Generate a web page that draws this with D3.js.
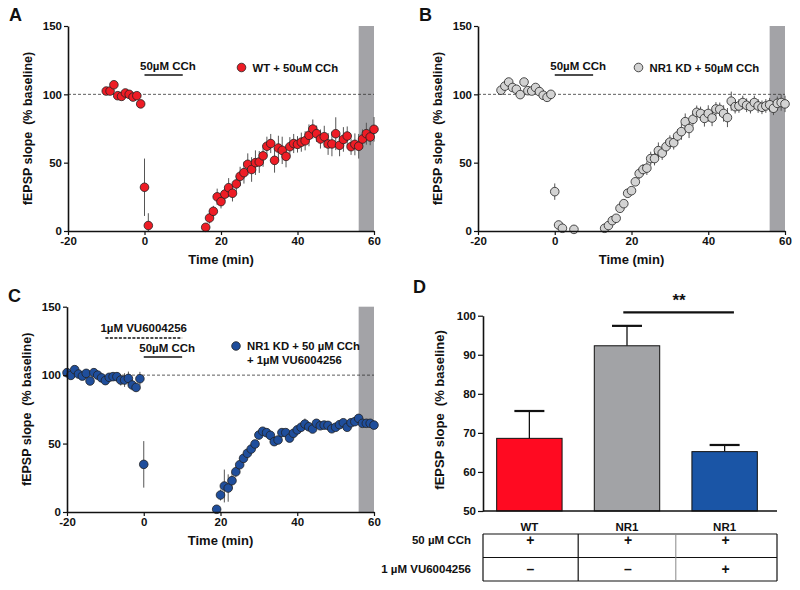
<!DOCTYPE html>
<html><head><meta charset="utf-8">
<script src="https://cdn.jsdelivr.net/npm/d3@7"></script>
<style>
body{margin:0;background:#fff}
svg text{font-family:"Liberation Sans",Arial,sans-serif;font-weight:bold;fill:#111}
</style></head>
<body><svg id="c" width="800" height="590"></svg>
<script>
// ---- Panel A: WT + 50uM CCh ----
const aTime = [-10,-9,-8,-7,-6,-5,-4,-3,-2,-1,0,1,
  16,17,18,19,20,21,22,23,24,25,26,27,28,29,30,31,32,33,34,35,36,37,38,39,40,41,42,43,44,45,46,47,48,49,50,51,52,53,54,55,56,57,58,59,60];
const aValue = [102.4,102.4,107,99,98.5,101,100,98,99,93,32,4,
  2.7,9.5,14.4,25,21.5,27,31.7,27.6,34.4,40,42.7,48.8,45,50,50.5,55,62,64,51.7,60.7,59,54.6,61.7,64,63.4,65,66,70,74.6,71.2,67.3,69,63.7,63.7,71.2,62.7,67,69.5,61.7,63.4,62,67.3,71.2,68.8,74.4];
const aErr = [1.5,2,2.5,3,2,2,1.5,2,2,2.5,21,9,
  3,4,4,6,5,5,7,6,6,7,8,8,9,9,8,8,7,7,9,9,10,8,7,7,6,7,7,8,7,6,7,8,8,9,12,8,9,7,6,8,9,7,8,6,9];

// ---- Panel B: NR1 KD + 50uM CCh ----
const bTime = [-14,-13,-12,-11,-10,-9,-8,-7,-6,-5,-4,-3,-2,-1,0,1,2,5,
  13,14,15,16,17,18,19,20,21,22,23,24,25,26,27,28,29,30,31,32,33,34,35,36,37,38,39,40,41,42,43,44,45,46,47,48,49,50,51,52,53,54,55,56,57,58,59,60];
const bValue = [103,106,109,105,103.7,99.8,109,102.7,102.4,105,102,99.3,97.8,100,28.8,4.4,2,1.2,
  2,4,7.6,9.3,16.6,20,27.6,29.5,36,42,45,46,53,53,58.8,57,61.7,65,64.6,69.5,72.7,80,75,81.7,86.8,86,82.4,86,82.7,89.3,89,86,83,95,91,91.5,94,92,91,94,91.5,90.5,91.5,92.4,89.8,93.4,94,93];
const bErr = [2,2,2,2,2,2,2,2,2,2,2,2,2,2,6,3,1,3,
  1,1,1,1.5,2,2,3,3,3,4,4,5,5,5,6,5,5,5,5,5,6,6,7,5,5,5,6,6,6,5,5,6,7,7,5,5,5,5,5,5,5,5,5,5,5,5,6,6];

// ---- Panel C: NR1 KD + 50uM CCh + 1uM VU6004256 ----
const cTime = [-20,-19,-18,-17,-16,-15,-14,-13,-12,-11,-10,-9,-8,-7,-6,-5,-4,-3,-2,-1,0,
  19,20,21,22,23,24,25,26,27,28,29,30,31,32,33,34,35,36,37,38,39,40,41,42,43,44,45,46,47,48,49,50,51,52,53,54,55,56,57,58,59,60];
const cValue = [101.8,99.8,104,100.8,99.3,101.3,95.7,101.8,100,98,96,98.4,98.9,98.9,96.4,96.4,97.6,92.8,91,97.4,34.8,
  2,12.4,19,17.5,22.9,29.4,34.5,39.2,42.9,46,49.7,56.2,59,58,56,51.4,52.6,58,58,54,57.5,60,61.9,64.3,62.3,60.6,64.8,63,63.5,63.3,60.8,61.9,63.8,65.2,61.9,65.2,66,68.4,64.8,64.8,64.8,63.5];
const cErr = [1.5,1.5,2,1.5,1.5,1.5,2,1.5,1.5,2,2,2,2,3,4,5,5,4,3,5,17,
  1,4,12,10,6,4,3,3,2,2,2,2,2,2,2,2,2,2,2,2,2,2,2,4,2,2,2,2,2,2,2,2,2,2,2,2,2,2,2,2,2,2];

const timeTicks = [-20,0,20,40,60];
const slopeTicks = [0,50,100,150];

// ---- Panel D: bar summary ----
const dGroups = ["WT","NR1","NR1"];
const dValue = [68.6,92.3,65.2];
const dErr = [7.0,5.1,1.7];
const dTicks = [50,60,70,80,90,100];
const rowLabels = ["50 \u00b5M CCh","1 \u00b5M VU6004256"];
const rowCCh = ["+","+","+"];
const rowVU = ["\u2013","\u2013","+"];

const svg = d3.select("#c");
const fmt = d => String(d);

function timePanel(o){
  const g = svg.append("g");
  const x = d3.scaleLinear().domain([-20,60]).range([o.left,o.right]);
  const y = d3.scaleLinear().domain([0,150]).range([o.bottom,o.top]);
  g.append("rect").attr("x",x(56)).attr("y",y(150)).attr("width",x(60)-x(56)).attr("height",y(0)-y(150)).attr("fill","#a3a3a7");
  g.append("line").attr("x1",x(-20)).attr("x2",x(60)).attr("y1",y(100)).attr("y2",y(100))
    .attr("stroke","#333").attr("stroke-width",0.8).attr("stroke-dasharray","3,2");
  const pts = o.t.map((t,i)=>({t,v:o.v[i],e:o.e[i]}));
  g.selectAll("line.err").data(pts).join("line").attr("class","err")
    .attr("x1",d=>x(d.t)).attr("x2",d=>x(d.t))
    .attr("y1",d=>y(Math.max(0,d.v-d.e))).attr("y2",d=>y(d.v+d.e))
    .attr("stroke","#555").attr("stroke-width",1);
  g.selectAll("circle.pt").data(pts).join("circle").attr("class","pt")
    .attr("cx",d=>x(d.t)).attr("cy",d=>y(d.v)).attr("r",4.3)
    .attr("fill",o.color).attr("stroke","#222").attr("stroke-width",0.8);
  const ya = g.append("g").attr("transform",`translate(${o.left},0)`)
    .call(d3.axisLeft(y).tickValues(slopeTicks).tickFormat(fmt).tickSize(4).tickSizeOuter(0).tickPadding(2));
  const xa = g.append("g").attr("transform",`translate(0,${o.bottom})`)
    .call(d3.axisBottom(x).tickValues(timeTicks).tickFormat(fmt).tickSize(4).tickSizeOuter(0).tickPadding(2));
  [ya,xa].forEach(a=>{
    a.select(".domain").attr("stroke","#111").attr("stroke-width",1.6);
    a.selectAll(".tick line").attr("stroke","#111").attr("stroke-width",1.2);
    a.selectAll(".tick text").attr("font-size",11.5).attr("font-family","Liberation Sans, Arial").attr("font-weight","bold").attr("fill","#111");
  });
  g.append("text").attr("transform",`translate(${o.left-36},${(o.top+o.bottom)/2}) rotate(-90)`)
    .attr("text-anchor","middle").attr("font-size",12.5).style("white-space","pre")
    .text("fEPSP slope  (% baseline)");
  g.append("text").attr("x",(o.left+o.right)/2).attr("y",o.bottom+33)
    .attr("text-anchor","middle").attr("font-size",13).text("Time (min)");
  g.append("text").attr("x",o.left-59).attr("y",o.top-5).attr("font-size",18).attr("font-family","Open Sans, sans-serif").attr("font-weight","bold").text(o.letter);
  g.append("text").attr("x",x(0)-4.5).attr("y",o.cchY).attr("font-size",11.5).text("50\u00b5M CCh");
  g.append("line").attr("x1",x(0)).attr("x2",x(10)).attr("y1",o.cchY+5).attr("y2",o.cchY+5).attr("stroke","#111").attr("stroke-width",1.3);
  if(o.vu){
    g.append("text").attr("x",x(-10)-5).attr("y",o.cchY-20).attr("font-size",11.5).text("1\u00b5M VU6004256");
    g.append("line").attr("x1",x(-10)).attr("x2",x(10)).attr("y1",o.cchY-14).attr("y2",o.cchY-14)
      .attr("stroke","#111").attr("stroke-width",1.3).attr("stroke-dasharray","3,1.5");
  }
  g.append("circle").attr("cx",o.legX).attr("cy",o.legY).attr("r",4.3).attr("fill",o.color).attr("stroke","#222").attr("stroke-width",0.8);
  o.legend.forEach((s,i)=>{
    g.append("text").attr("x",o.legX+11).attr("y",o.legY+4+i*13.5).attr("font-size",11.3).style("white-space","pre").text(s);
  });
}

timePanel({left:68,right:374,top:26,bottom:231,t:aTime,v:aValue,e:aErr,color:"#ee1c25",letter:"A",
  cchY:70,legX:241.5,legY:67.5,legend:["WT + 50uM CCh"]});
timePanel({left:478,right:785,top:26,bottom:231,t:bTime,v:bValue,e:bErr,color:"#d3d3d3",letter:"B",
  cchY:70,legX:638.5,legY:67.5,legend:["NR1 KD + 50\u00b5M CCh"]});
timePanel({left:67,right:374,top:306.7,bottom:512,t:cTime,v:cValue,e:cErr,color:"#1f4e9c",letter:"C",
  cchY:352,vu:true,legX:236,legY:346,legend:["NR1 KD + 50 \u00b5M CCh","+ 1\u00b5M VU6004256"]});

(function(){
  const g = svg.append("g");
  const left=483, axisRight=777, top=315.7, bottom=511;
  const idx = dGroups.map((d,i)=>i);
  const x = d3.scaleBand().domain(idx).range([left,771]).paddingInner(0.33).paddingOuter(0.14);
  const y = d3.scaleLinear().domain([50,100]).range([bottom,top]);
  const colors = ["#ff0a21","#a2a3a6","#1a55a6"];
  idx.forEach(i=>{
    const cx = x(i)+x.bandwidth()/2;
    g.append("line").attr("x1",cx).attr("x2",cx).attr("y1",y(dValue[i])).attr("y2",y(dValue[i]+dErr[i])).attr("stroke","#111").attr("stroke-width",1.3);
    g.append("line").attr("x1",cx-15).attr("x2",cx+15).attr("y1",y(dValue[i]+dErr[i])).attr("y2",y(dValue[i]+dErr[i])).attr("stroke","#111").attr("stroke-width",2.2);
  });
  g.selectAll("rect.bar").data(idx).join("rect").attr("class","bar")
    .attr("x",i=>x(i)).attr("width",x.bandwidth())
    .attr("y",i=>y(dValue[i])).attr("height",i=>y(50)-y(dValue[i]))
    .attr("fill",i=>colors[i]).attr("stroke","#111").attr("stroke-width",1);
  const ya = g.append("g").attr("transform",`translate(${left},0)`)
    .call(d3.axisLeft(y).tickValues(dTicks).tickFormat(fmt).tickSize(5).tickSizeOuter(0).tickPadding(2));
  ya.select(".domain").attr("stroke","#111").attr("stroke-width",1.6);
  ya.selectAll(".tick line").attr("stroke","#111").attr("stroke-width",1.2);
  ya.selectAll(".tick text").attr("font-size",11.5).attr("font-family","Liberation Sans, Arial").attr("font-weight","bold").attr("fill","#111");
  g.append("line").attr("x1",left).attr("x2",axisRight).attr("y1",bottom).attr("y2",bottom).attr("stroke","#111").attr("stroke-width",1.6);
  g.selectAll("text.cat").data(idx).join("text").attr("class","cat")
    .attr("x",i=>x(i)+x.bandwidth()/2).attr("y",531).attr("text-anchor","middle").attr("font-size",11.5).text(i=>dGroups[i]);
  g.append("text").attr("transform",`translate(444,410) rotate(-90)`).attr("text-anchor","middle")
    .attr("font-size",13).style("white-space","pre").text("fEPSP slope  (% baseline)");
  g.append("text").attr("x",413).attr("y",293).attr("font-size",18).attr("font-family","Open Sans, sans-serif").attr("font-weight","bold").text("D");
  g.append("line").attr("x1",x(1)+29).attr("x2",x(2)+42).attr("y1",312.3).attr("y2",312.3).attr("stroke","#111").attr("stroke-width",2.2);
  g.append("text").attr("x",679).attr("y",306).attr("text-anchor","middle").attr("font-size",17).text("**");
  const tTop=534, tMid=557.5, tBot=581;
  const bounds = [left, x(1)-x.step()*x.paddingInner()/2, x(2)-x.step()*x.paddingInner()/2, axisRight];
  [tTop,tMid,tBot].forEach(yy=>g.append("line").attr("x1",left).attr("x2",axisRight).attr("y1",yy).attr("y2",yy).attr("stroke","#111").attr("stroke-width",1.2));
  bounds.forEach((bx,i)=>g.append("line").attr("x1",bx).attr("x2",bx).attr("y1",tTop).attr("y2",tBot)
    .attr("stroke",i===2?"#888":"#111").attr("stroke-width",i===2?1:1.2));
  g.selectAll("text.rl").data(rowLabels).join("text").attr("class","rl")
    .attr("x",471).attr("y",(d,i)=>i===0?544:573).attr("text-anchor","end").attr("font-size",11.5).text(d=>d);
  [rowCCh,rowVU].forEach((row,r)=>{
    row.forEach((s,i)=>{
      g.append("text").attr("x",x(i)+x.bandwidth()/2+1).attr("y",r===0?545:574).attr("text-anchor","middle").attr("font-size",14).text(s);
    });
  });
})();
</script></body></html>
